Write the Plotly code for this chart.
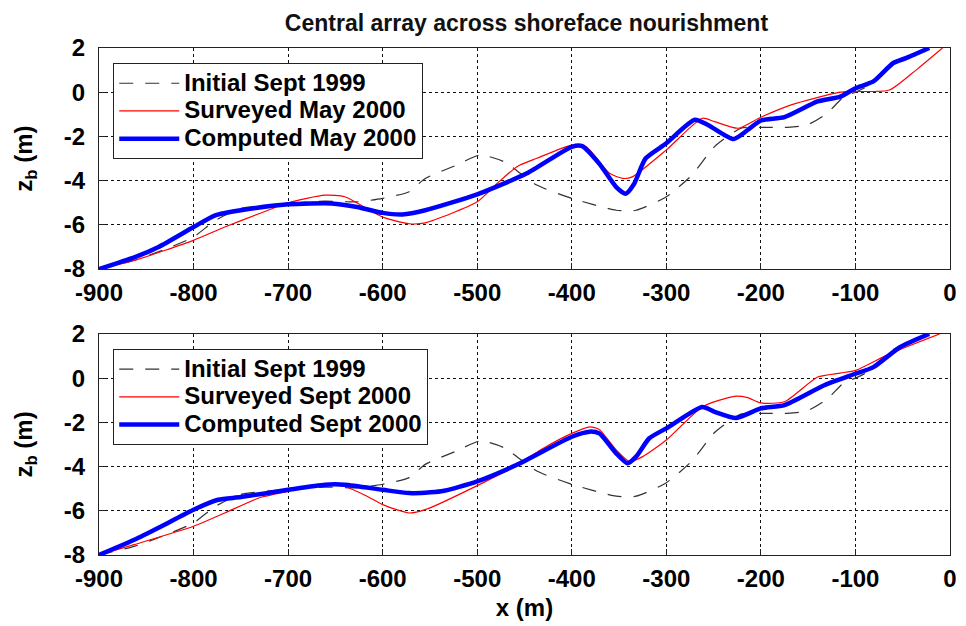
import plotly.graph_objects as go
from plotly.subplots import make_subplots

# Initial profile (Sept 1999), shared by both panels
initial_x = [-900, -862, -830, -800, -777, -750, -700, -661, -627, -600, -572, -555, -522, -497, -472, -437,
             -400, -353, -332, -300, -273, -249, -221, -200, -172, -151, -130, -112, -100, -80, -60, -40, -22]
initial_y = [-8, -7.6, -7.1, -6.55, -5.8, -5.26, -5.03, -4.93, -4.96, -4.8, -4.5, -3.9, -3.3, -2.84, -3.14, -4.2,
             -4.8, -5.34, -5.34, -4.73, -3.75, -2.46, -1.63, -1.59, -1.59, -1.48, -0.95, -0.2, 0.0, 0.45, 1.3, 1.6, 2.0]

# Top panel: May 2000
may_surv_x = [-900, -862, -800, -767, -731, -700, -661, -640, -600, -572, -555, -500, -479, -458, -437, -400,
              -385, -360, -346, -336, -300, -262, -249, -224, -200, -168, -116, -100, -64, -36, -8]
may_surv_y = [-8, -7.6, -6.7, -6.1, -5.5, -5.0, -4.66, -4.73, -5.65, -5.95, -5.91, -4.96, -4.13, -3.37, -2.99, -2.39,
              -2.46, -3.67, -3.9, -3.83, -2.61, -1.18, -1.33, -1.63, -1.13, -0.57, 0.0, 0.03, 0.1, 1.0, 2.0]
may_comp_x = [-900, -862, -837, -800, -777, -750, -700, -654, -627, -600, -579, -555, -500, -448, -400, -389,
              -371, -353, -343, -334, -322, -300, -270, -256, -229, -214, -200, -175, -140, -116, -100, -81,
              -60, -46, -22]
may_comp_y = [-8, -7.46, -7.0, -6.1, -5.57, -5.34, -5.07, -5.03, -5.19, -5.46, -5.53, -5.34, -4.62, -3.68, -2.47, -2.44,
              -3.23, -4.29, -4.59, -4.14, -3.0, -2.31, -1.25, -1.48, -2.12, -1.71, -1.28, -1.13, -0.42, -0.2, 0.18, 0.49,
              1.32, 1.55, 2.0]

# Bottom panel: Sept 2000
sep_surv_x = [-900, -862, -800, -767, -731, -700, -661, -640, -616, -600, -572, -555, -500, -458, -430, -400,
              -381, -371, -353, -339, -325, -300, -262, -228, -214, -200, -175, -140, -116, -100, -64, -11]
sep_surv_y = [-8, -7.52, -6.7, -6.1, -5.42, -5.12, -4.78, -4.9, -5.35, -5.72, -6.1, -5.95, -4.86, -3.92, -3.17, -2.5,
              -2.2, -2.32, -3.25, -3.77, -3.55, -2.8, -1.3, -0.82, -0.88, -1.12, -1.07, 0.05, 0.23, 0.35, 1.1, 2.0]
sep_comp_x = [-900, -862, -837, -800, -774, -750, -700, -661, -640, -600, -572, -538, -500, -458, -400, -381,
              -371, -353, -341, -332, -318, -300, -262, -249, -226, -200, -175, -133, -100, -81, -53, -22]
sep_comp_y = [-8, -7.3, -6.77, -5.95, -5.5, -5.38, -5.05, -4.82, -4.82, -5.05, -5.2, -5.12, -4.67, -3.92, -2.65, -2.42,
              -2.5, -3.4, -3.85, -3.55, -2.72, -2.27, -1.3, -1.52, -1.8, -1.37, -1.22, -0.32, 0.2, 0.5, 1.4, 2.0]

x_ticks = [-900, -800, -700, -600, -500, -400, -300, -200, -100, 0]
y_ticks = [-8, -6, -4, -2, 0, 2]

FONT = "Liberation Sans, Arial, sans-serif"
BIG = 24


def big(txt):
    return '<span style="font-size:%dpx">%s</span>' % (BIG, txt)


fig = make_subplots(rows=2, cols=1, vertical_spacing=0.128)

panels = [
    (1, "legend", "May 2000", may_surv_x, may_surv_y, may_comp_x, may_comp_y),
    (2, "legend2", "Sept 2000", sep_surv_x, sep_surv_y, sep_comp_x, sep_comp_y),
]
for row, leg, label, sx, sy, cx, cy in panels:
    fig.add_trace(go.Scatter(x=initial_x, y=initial_y, mode="lines", name=big("Initial Sept 1999"),
                             line=dict(color="#333333", width=1.2, dash="14px,12px", shape="spline", smoothing=0.6),
                             legend=leg), row=row, col=1)
    fig.add_trace(go.Scatter(x=sx, y=sy, mode="lines", name=big("Surveyed " + label),
                             line=dict(color="#ff0000", width=1.2, shape="spline", smoothing=0.6),
                             legend=leg), row=row, col=1)
    fig.add_trace(go.Scatter(x=cx, y=cy, mode="lines", name=big("Computed " + label),
                             line=dict(color="#0000ff", width=4.5, shape="spline", smoothing=0.6),
                             legend=leg), row=row, col=1)

axis_common = dict(showline=True, mirror=True, linecolor="#222222", linewidth=1.2,
                   ticks="inside", ticklen=6, tickcolor="#222222",
                   showgrid=True, gridcolor="#111111", griddash="dot", gridwidth=1,
                   zeroline=False,
                   tickfont=dict(family=FONT, size=BIG, color="black", weight="bold"))

for row in (1, 2):
    fig.update_xaxes(range=[-900, 0], tickvals=x_ticks, ticktext=[str(v) for v in x_ticks],
                     ticklabelstandoff=2, row=row, col=1, **axis_common)
    fig.update_yaxes(range=[-8, 2], tickvals=y_ticks, ticktext=[str(v) for v in y_ticks],
                     ticklabelstandoff=8,
                     title=dict(text="z<sub>b</sub> (m)", standoff=24,
                                font=dict(family=FONT, size=BIG, color="black", weight="bold")),
                     row=row, col=1, **axis_common)

fig.update_xaxes(title=dict(text="x (m)", standoff=8,
                            font=dict(family=FONT, size=BIG, color="black", weight="bold")), row=2, col=1)

legend_style = dict(bgcolor="white", bordercolor="#222222", borderwidth=1.2,
                    font=dict(family=FONT, size=19, color="black", weight="bold"),
                    xanchor="left", yanchor="top", tracegroupgap=0, itemwidth=60)

fig.update_layout(
    width=966, height=626,
    margin=dict(l=99, r=9, t=48, b=71),
    paper_bgcolor="white", plot_bgcolor="white",
    showlegend=True,
    title=dict(text="Central array across shoreface nourishment", x=0.545, xanchor="center",
               y=0.964, yanchor="middle",
               font=dict(family=FONT, size=23, color="#111111", weight="bold")),
    legend=dict(x=0.0165, y=0.97, **legend_style),
    legend2=dict(x=0.0165, y=0.406, **legend_style),
)

fig.write_html("out.html")
